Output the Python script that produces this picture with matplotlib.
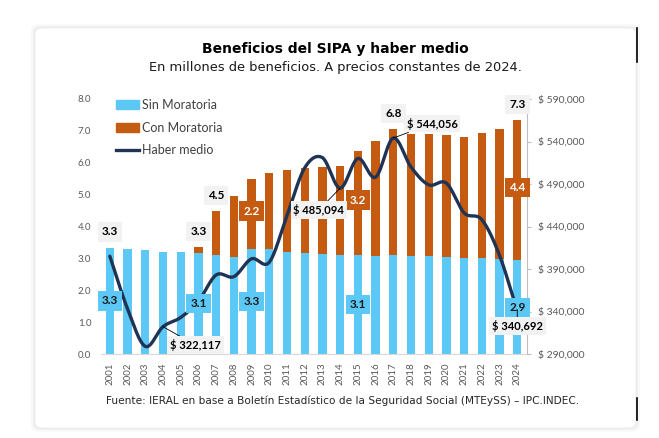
import numpy as np
import matplotlib
matplotlib.use("Agg")
import matplotlib.pyplot as plt
from matplotlib.patches import FancyBboxPatch, Patch
from matplotlib.lines import Line2D
from matplotlib.ticker import FuncFormatter, MultipleLocator, FixedLocator

# ---- datos ----
years = list(range(2001, 2025))
sin_moratoria = [3.33, 3.30, 3.27, 3.21, 3.21, 3.16, 3.10, 3.05, 3.29, 3.29, 3.20, 3.17,
                 3.13, 3.12, 3.10, 3.07, 3.10, 3.07, 3.06, 3.04, 3.00, 3.00, 2.98, 2.94]
total_beneficios = [3.33, 3.30, 3.27, 3.21, 3.21, 3.35, 4.48, 4.95, 5.48, 5.67, 5.77, 5.83,
                    5.86, 5.89, 6.36, 6.68, 7.05, 6.90, 6.90, 6.87, 6.80, 6.93, 7.05, 7.33]
con_moratoria = [t - s for t, s in zip(total_beneficios, sin_moratoria)]
haber_medio = [405000, 343000, 299000, 322117, 333000, 352000, 383000, 381000, 402000,
               398000, 453000, 509000, 521000, 485094, 520000, 498000, 544056, 510000,
               489000, 491000, 456000, 448000, 406000, 340692]
haber_ticks = [290000, 340000, 390000, 440000, 490000, 540000, 590000]

top_years = [2001, 2006, 2007, 2017, 2024]
top_labels = ["3.3", "3.3", "4.5", "6.8", "7.3"]
sin_years = [2001, 2006, 2009, 2015, 2024]
sin_labels = ["3.3", "3.1", "3.3", "3.1", "2.9"]
con_years = [2009, 2015, 2024]
con_labels = ["2.2", "3.2", "4.4"]
haber_years = [2004, 2014, 2017, 2024]
haber_labels = ["$ 322,117", "$ 485,094", "$ 544,056", "$ 340,692"]

BLUE = "#5BC8F5"
ORANGE = "#C55A11"
NAVY = "#1F3455"
GRAY_TXT = "#595959"
BOX = "#F2F2F2"
FONT = "Lato"


def smooth(x, y, n=24):
    # curva suavizada tipo Catmull-Rom, como la línea suavizada de Excel
    pts = np.column_stack([x, y]).astype(float)
    P = np.vstack([2 * pts[0] - pts[1], pts, 2 * pts[-1] - pts[-2]])
    t = np.linspace(0, 1, n, endpoint=False)[:, None]
    segs = []
    for i in range(1, len(P) - 2):
        p0, p1, p2, p3 = P[i - 1], P[i], P[i + 1], P[i + 2]
        segs.append(0.5 * (2 * p1 + (p2 - p0) * t
                           + (2 * p0 - 5 * p1 + 4 * p2 - p3) * t ** 2
                           + (-p0 + 3 * p1 - 3 * p2 + p3) * t ** 3))
    segs.append(P[-2][None])
    arr = np.vstack(segs)
    return arr[:, 0], arr[:, 1]


fig = plt.figure(figsize=(6.59, 4.38), dpi=100)
fig.patch.set_facecolor("white")

# tarjeta con sombra
W, H = 659.0, 438.0
for k, a in [(4, 0.025), (2, 0.04)]:
    fig.add_artist(FancyBboxPatch(((35 - k) / W, 1 - (428 + k) / H), (601 + 2 * k) / W, (400 + 2 * k) / H,
                                  boxstyle="round,pad=0,rounding_size=0.012", transform=fig.transFigure,
                                  fc="black", ec="none", alpha=a, zorder=-3))
fig.add_artist(FancyBboxPatch((35 / W, 1 - 428 / H), 601 / W, 400 / H,
                              boxstyle="round,pad=0,rounding_size=0.012", transform=fig.transFigure,
                              fc="white", ec="#EEEEEE", lw=0.8, zorder=-2))
# marcas negras del borde derecho
fig.add_artist(Line2D([637 / W, 637 / W], [1 - 28 / H, 1 - 62 / H], color="black", lw=1.2,
                      transform=fig.transFigure))
fig.add_artist(Line2D([637 / W, 637 / W], [1 - 398 / H, 1 - 420 / H], color="black", lw=1.2,
                      transform=fig.transFigure))

ax = fig.add_axes([101 / W, 1 - 354 / H, 426 / W, 255 / H])
ax.set_facecolor("none")
x = np.arange(len(years))
ax.bar(x, sin_moratoria, width=0.47, color=BLUE, zorder=2)
ax.bar(x, con_moratoria, bottom=sin_moratoria, width=0.47, color=ORANGE, zorder=2)
ax.set_xlim(-0.5, 23.55)
ax.set_ylim(0, 8)
ax.yaxis.set_major_locator(MultipleLocator(1))
ax.yaxis.set_major_formatter(FuncFormatter(lambda v, p: f"{v:.1f}"))
ax.set_xticks(x)
ax.set_xticklabels([str(y) for y in years], rotation=90)
ax.tick_params(axis="y", length=0, pad=7, labelsize=7, labelcolor=GRAY_TXT)
ax.tick_params(axis="x", length=0, pad=6, labelsize=7, labelcolor=GRAY_TXT)
for lab in ax.get_xticklabels() + ax.get_yticklabels():
    lab.set_fontfamily(FONT)
for s in ["top", "left", "right"]:
    ax.spines[s].set_visible(False)
ax.spines["bottom"].set_color("#D9D9D9")

ax2 = ax.twinx()
xs, ys = smooth(x, haber_medio)
ax2.plot(xs, ys, color=NAVY, lw=2.4, zorder=3, solid_capstyle="round")
ax2.set_ylim(290000, 590000)
ax2.yaxis.set_major_locator(FixedLocator(haber_ticks))
ax2.yaxis.set_major_formatter(FuncFormatter(lambda v, p: f"$ {v:,.0f}"))
ax2.tick_params(axis="y", length=3, width=0.8, color="#BFBFBF", pad=5, labelsize=7.5, labelcolor=GRAY_TXT)
for lab in ax2.get_yticklabels():
    lab.set_fontfamily(FONT)
for s in ["top", "left", "bottom"]:
    ax2.spines[s].set_visible(False)
ax2.spines["right"].set_color("#BFBFBF")

# etiquetas de barras (sobre la línea)
idx = {y: i for i, y in enumerate(years)}
lbl = dict(fontsize=8.5, fontweight="bold", fontfamily=FONT, ha="center", va="center",
           transform=ax.transData, zorder=6)
for yr, s in zip(top_years, top_labels):
    i = idx[yr]
    ax2.text(i, total_beneficios[i] + 0.5, s, color="black",
             bbox=dict(boxstyle="square,pad=0.35", fc=BOX, ec="none"), **lbl)
for yr, s in zip(sin_years, sin_labels):
    i = idx[yr]
    ax2.text(i, sin_moratoria[i] / 2, s, color="#1A1A1A",
             bbox=dict(boxstyle="square,pad=0.35", fc=BLUE, ec="none"), **lbl)
for yr, s in zip(con_years, con_labels):
    i = idx[yr]
    ax2.text(i, sin_moratoria[i] + con_moratoria[i] / 2 + 0.1, s, color="white",
             bbox=dict(boxstyle="square,pad=0.35", fc=ORANGE, ec="none"), **lbl)

# etiquetas del haber medio con líneas guía
offsets = {2004: (1.83, -21500), 2014: (-1.2, -25700), 2017: (2.2, 17000), 2024: (0.0, -17700)}
for yr, s in zip(haber_years, haber_labels):
    i = idx[yr]
    dx, dy = offsets[yr]
    ax2.annotate(s, xy=(i, haber_medio[i]), xytext=(i + dx, haber_medio[i] + dy),
                 fontsize=8, fontweight="bold", fontfamily=FONT, ha="center", va="center",
                 color="black", zorder=6,
                 bbox=dict(boxstyle="square,pad=0.25", fc=BOX, ec="none"),
                 arrowprops=dict(arrowstyle="-", color="black", lw=0.6, shrinkA=0, shrinkB=0))

# leyenda
handles = [Patch(color=BLUE, label="Sin Moratoria"),
           Patch(color=ORANGE, label="Con Moratoria"),
           Line2D([], [], color=NAVY, lw=2.4, label="Haber medio")]
leg = ax2.legend(handles=handles, loc="upper left", bbox_to_anchor=(0.035, 1.0), frameon=False,
                 handlelength=1.85, handletextpad=0.2, labelspacing=0.85,
                 borderpad=0, borderaxespad=0, prop={"family": FONT, "size": 9})
for t in leg.get_texts():
    t.set_color("#404040")

# títulos y fuente
fig.text(335 / W, 1 - 49 / H, "Beneficios del SIPA y haber medio", ha="center", va="center",
         fontsize=10, fontweight="bold", color="black")
fig.text(335 / W, 1 - 68 / H, "En millones de beneficios. A precios constantes de 2024.", ha="center",
         va="center", fontsize=9.4, color="#1A1A1A")
fig.text(343 / W, 1 - 401 / H,
         "Fuente: IERAL en base a Boletín Estadístico de la Seguridad Social (MTEySS) – IPC.INDEC.",
         ha="center", va="center", fontsize=7.6, color="#262626")

fig.savefig("out.png", dpi=100)
